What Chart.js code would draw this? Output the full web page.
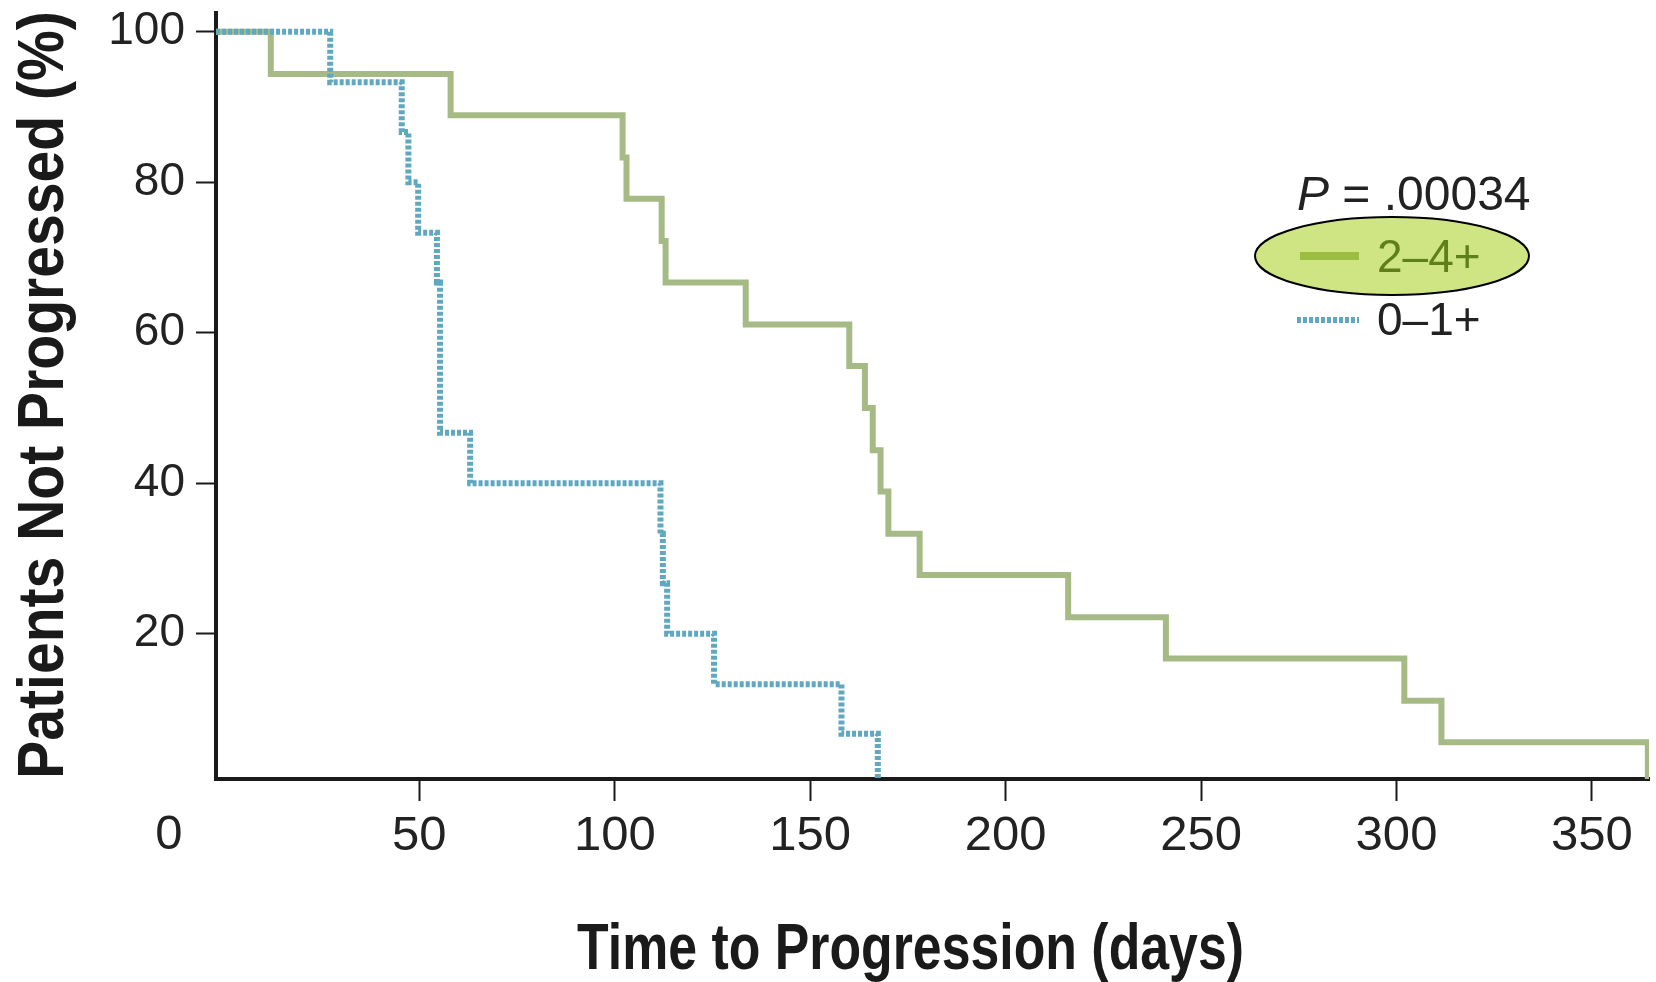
<!DOCTYPE html>
<html>
<head>
<meta charset="utf-8">
<script src="https://cdn.jsdelivr.net/npm/chart.js@4.4.0/dist/chart.umd.min.js"></script>
<style>
  html, body { margin: 0; padding: 0; background: #fff; }
  #wrap { width: 1656px; height: 982px; }
</style>
</head>
<body>
<div id="wrap"><canvas id="kmChart" width="1656" height="982"></canvas></div>
<script>
// Kaplan-Meier curves: days vs % not progressed
const highDays = [-2, 12, 58, 102, 103, 112, 113, 133.5, 160, 164, 166, 168, 170, 178, 216, 241, 302, 311.5, 364.3];
const highPct  = [100, 94.4, 88.9, 83.3, 77.8, 72.2, 66.7, 61.1, 55.6, 50, 44.4, 38.9, 33.3, 27.8, 22.2, 16.7, 11.1, 5.6, 0];

const lowDays = [-2, 27.2, 45.5, 47.2, 49.7, 54.5, 55.3, 55.3, 55.3, 63, 111.7, 112.3, 113.4, 125.4, 158, 167.3];
const lowPct  = [100, 93.3, 86.7, 80, 73.3, 66.7, 60, 53.3, 46.7, 40, 33.3, 26.7, 20, 13.3, 6.7, 0];

const seriesLabels = ['2\u20134+', '0\u20131+'];
const xTicks = [50, 100, 150, 200, 250, 300, 350];
const yTicks = [20, 40, 60, 80, 100];
const pValue = '.00034';
const xTitle = 'Time to Progression (days)';
const yTitle = 'Patients Not Progressed (%)';

const toPoints = (xs, ys) => xs.map((x, i) => ({ x: x, y: ys[i] }));

const REGULAR = '"Liberation Sans", Arial, sans-serif';
const INK = '#1a1a1a';

// titles (squeezed like the original condensed type), legend with the
// highlighted ellipse, p value, and the stray "0" in the corner
const kmExtras = {
  id: 'kmExtras',
  afterDraw(chart) {
    const { ctx, chartArea, scales } = chart;
    const ds = chart.data.datasets;
    ctx.save();

    // axis titles
    ctx.font = 'bold 65px ' + REGULAR;
    ctx.fillStyle = INK;
    ctx.textAlign = 'center';
    ctx.textBaseline = 'alphabetic';
    ctx.save();
    ctx.translate((chartArea.left + chartArea.right) / 2 - 22, 969);
    ctx.scale(0.797, 1);
    ctx.fillText(xTitle, 0, 0);
    ctx.restore();
    ctx.save();
    ctx.translate(63, (chartArea.top + chartArea.bottom) / 2 - 1);
    ctx.rotate(-Math.PI / 2);
    ctx.scale(0.878, 1);
    ctx.fillText(yTitle, 0, 0);
    ctx.restore();

    // corner "0"
    ctx.font = '49px ' + REGULAR;
    ctx.fillStyle = '#222';
    ctx.textAlign = 'center';
    ctx.textBaseline = 'top';
    ctx.fillText('0', chartArea.left - 47, scales.x.top + 32);

    const lx = chartArea.right - 349;   // left of legend samples
    const top = chartArea.top;

    // P value
    ctx.textAlign = 'left';
    ctx.textBaseline = 'alphabetic';
    ctx.fillStyle = '#222';
    ctx.font = 'italic 48px ' + REGULAR;
    ctx.fillText('P', lx - 3, top + 197);
    const pw = ctx.measureText('P').width;
    ctx.font = '48px ' + REGULAR;
    ctx.fillText(' = ' + pValue, lx - 3 + pw, top + 197);

    // highlight ellipse
    ctx.beginPath();
    ctx.ellipse(lx + 92, top + 243, 137, 39, 0, 0, Math.PI * 2);
    ctx.fillStyle = '#cfe584';
    ctx.fill();
    ctx.lineWidth = 2;
    ctx.strokeStyle = '#000';
    ctx.stroke();

    // row 1
    ctx.beginPath();
    ctx.moveTo(lx, top + 243);
    ctx.lineTo(lx + 59, top + 243);
    ctx.lineWidth = 8;
    ctx.strokeStyle = '#9cbd3f';
    ctx.stroke();
    ctx.font = '46px ' + REGULAR;
    ctx.fillStyle = '#5e7f1b';
    ctx.fillText(ds[0].label, lx + 77, top + 259);

    // row 2
    ctx.beginPath();
    ctx.setLineDash(ds[1].borderDash);
    ctx.moveTo(lx - 3, top + 307);
    ctx.lineTo(lx + 59, top + 307);
    ctx.lineWidth = 6;
    ctx.strokeStyle = ds[1].borderColor;
    ctx.stroke();
    ctx.setLineDash([]);
    ctx.fillStyle = '#222';
    ctx.fillText(ds[1].label, lx + 77, top + 322);

    ctx.restore();
  }
};

new Chart(document.getElementById('kmChart').getContext('2d'), {
  type: 'line',
  data: {
    datasets: [
      {
        label: seriesLabels[0],
        data: toPoints(highDays, highPct),
        borderColor: '#a6ba86',
        borderWidth: 6,
        stepped: 'before',
        pointRadius: 0,
        fill: false,
        order: 1
      },
      {
        label: seriesLabels[1],
        data: toPoints(lowDays, lowPct),
        borderColor: '#5fa8c0',
        borderWidth: 6,
        borderDash: [4, 2],
        stepped: 'before',
        pointRadius: 0,
        fill: false,
        order: 0
      }
    ]
  },
  options: {
    responsive: false,
    animation: false,
    layout: { padding: { top: 13, right: 7, left: 0, bottom: 0 } },
    plugins: {
      legend: { display: false },
      tooltip: { enabled: false }
    },
    scales: {
      x: {
        type: 'linear',
        min: -2.02,
        max: 364.6,
        afterBuildTicks: s => { s.ticks = xTicks.map(v => ({ value: v })); },
        afterFit: s => { s.height = 203; s.paddingLeft = 0; s.paddingRight = 0; },
        border: { display: true, color: INK, width: 4 },
        grid: { drawOnChartArea: false, drawTicks: true, tickLength: 22, tickWidth: 2, tickColor: INK },
        ticks: {
          color: '#222',
          font: { family: REGULAR, size: 49 },
          padding: 6,
          maxRotation: 0,
          autoSkip: false
        },
        title: { display: false }
      },
      y: {
        min: 0.7,
        max: 102.5,
        afterBuildTicks: s => { s.ticks = yTicks.map(v => ({ value: v })); },
        afterFit: s => { s.width = 216; s.paddingTop = 0; s.paddingBottom = 0; },
        border: { display: true, color: INK, width: 4 },
        grid: { drawOnChartArea: false, drawTicks: true, tickLength: 20, tickWidth: 2, tickColor: INK },
        ticks: {
          color: '#222',
          font: { family: REGULAR, size: 46 },
          padding: 11
        },
        title: { display: false }
      }
    }
  },
  plugins: [kmExtras]
});
</script>
</body>
</html>
